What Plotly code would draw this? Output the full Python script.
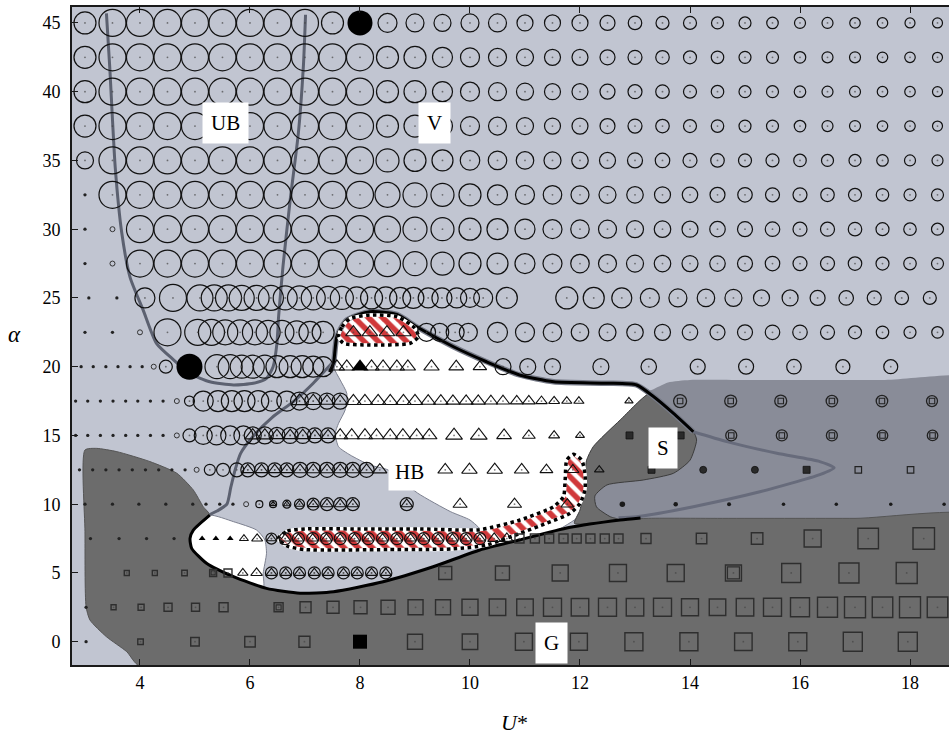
import plotly.graph_objects as go

# ---------------- DATA ----------------
# open circles (V regime): U* positions and diameters (px) per alpha row
V45_U = [3.0, 3.5, 4.0, 4.5, 5.0, 5.5, 6.0, 6.5, 7.0, 7.5, 8.5, 9.0, 9.5, 10.0, 10.5, 11.0, 11.5, 12.0, 12.5, 13.0, 13.5, 14.0, 14.5, 15.0, 15.5, 16.0, 16.5, 17.0, 17.5, 18.0, 18.5]
V45_D = [22, 27, 27, 27, 27, 27, 27, 27, 27, 22, 19, 18, 17, 18, 18, 16, 16, 16, 15, 13.5, 13, 13, 12, 12, 11.5, 11, 11, 10.5, 10.5, 10, 10]
V40_U = [3.0, 3.5, 4.0, 4.5, 5.0, 5.5, 6.0, 6.5, 7.0, 7.5, 8.0, 8.5, 9.0, 9.5, 10.0, 10.5, 11.0, 11.5, 12.0, 12.5, 13.0, 13.5, 14.0, 14.5, 15.0, 15.5, 16.0, 16.5, 17.0, 17.5, 18.0, 18.5]
V40_D = [22, 27, 27, 27, 27, 27, 27, 27, 27, 27, 27, 22, 22, 20, 19, 18, 17, 16, 16, 15, 14, 13.5, 13, 12.5, 12, 12, 11.5, 11, 11, 10.5, 10.5, 10]
V35_D = [17, 27, 27, 27, 27, 27, 27, 27, 27, 27, 27, 23, 22, 21, 19.5, 18.5, 17.5, 17, 16.5, 16, 15, 14.5, 14, 13.5, 13, 13, 12.5, 12, 12, 11.5, 11, 11]
V32_U = [3.5, 4.0, 4.5, 5.0, 5.5, 6.0, 6.5, 7.0, 7.5, 8.0, 8.5, 9.0, 9.5, 10.0, 10.5, 11.0, 11.5, 12.0, 12.5, 13.0, 13.5, 14.0, 14.5, 15.0, 15.5, 16.0, 16.5, 17.0, 17.5, 18.0, 18.5]
V32_D = [27, 27, 27, 27, 27, 27, 27, 27, 27, 27, 25, 24, 23, 22, 20, 19, 18.5, 18, 17, 16.5, 16, 15.5, 15, 14.5, 14, 14, 13.5, 13, 12.5, 12, 12]
V30_U = [4.0, 4.5, 5.0, 5.5, 6.0, 6.5, 7.0, 7.5, 8.0, 8.5, 9.0, 9.5, 10.0, 10.5, 11.0, 11.5, 12.0, 12.5, 13.0, 13.5, 14.0, 14.5, 15.0, 15.5, 16.0, 16.5, 17.0, 17.5, 18.0, 18.5]
V30_D = [27, 27, 27, 27, 27, 27, 27, 27, 27, 26, 24, 23, 22, 21, 20, 19, 18.5, 18, 17, 16.5, 16, 15.5, 15, 14.5, 14, 14, 13.5, 13, 12.5, 12]
V25_U = [4.09, 4.6, 5.09, 5.35, 5.61, 5.85, 6.12, 6.38, 6.64, 6.9, 7.15, 7.42, 7.67, 7.94, 8.21, 8.47, 8.73, 8.97, 9.24, 9.49, 9.76, 10.0, 10.24, 10.67,
         11.76, 12.25, 12.76, 13.27, 13.78, 14.29, 14.79, 15.3, 15.82, 16.32, 16.84, 17.35, 17.85, 18.36]
V25_D = [20, 27, 26, 26, 26, 25, 25, 25, 24, 24, 24, 23, 23, 22, 22, 22, 21, 21, 20, 20, 20, 19, 19, 21,
         22, 21, 20, 19, 18, 17.5, 17, 16, 16, 15, 14.5, 14, 13.5, 13]
V22_U = [4.5, 5.05, 5.3, 5.55, 5.82, 6.09, 6.33, 6.58, 6.85, 7.09, 7.33, 9.21, 9.45, 9.73, 9.97,
         10.5, 11.0, 11.5, 12.0, 12.5, 13.0, 13.5, 14.0, 14.5, 15.0, 15.5, 16.0, 16.5, 17.0, 17.5, 18.0, 18.5]
V22_D = [27, 26, 26, 25, 25, 25, 24, 24, 23, 22, 22, 18, 18, 18, 18,
         20, 19, 18.5, 17.5, 17, 16.5, 16, 15.5, 15, 15, 14.5, 14.5, 14, 13, 12.5, 12, 11.5]
V20_U = [4.47, 5.4, 5.64, 5.85, 6.05, 6.27, 6.49, 6.73, 6.95, 7.15, 7.33, 10.6, 11.05, 11.5, 12.38, 13.25, 14.14, 15.02, 15.89, 16.78, 17.65]
V20_D = [13, 24, 24, 23, 23, 23, 22, 22, 22, 21, 20, 16, 16, 16, 16, 15.5, 15, 15, 14.5, 14, 14]
V17_U = [4.9, 5.15, 5.42, 5.67, 5.9, 6.15, 6.39, 6.67]
V17_D = [10, 20, 21, 21, 21, 21, 20, 20]
V15_U = [4.9, 5.15, 5.39, 5.64, 5.88]
V15_D = [13, 18, 19, 19, 19]
V12_U = [5.27, 5.51, 5.76]
V12_D = [11, 13, 14]
V10_U = [6.17]
V10_D = [7]

# filled circles (highlighted cases)
VF_U = [8.0, 4.9]
VF_A = [45, 20]
VF_D = [25, 26]

# tiny circles
SC_U = [3.5, 3.5, 4.0, 4.25, 4.67, 4.67, 5.03, 5.93]
SC_A = [30, 27.5, 22.5, 20, 17.5, 15, 12.5, 10]

# small dots (no response)
DOT32_U = [3.0]
DOT30_U = [3.0]
DOT27_U = [3.0]
DOT25_U = [3.07, 3.58]
DOT22_U = [3.0, 3.5]
DOT20_U = [2.93, 3.15, 3.38, 3.6, 3.82, 4.04]
DOT17_U = [2.83, 3.05, 3.28, 3.51, 3.74, 3.96, 4.19, 4.42]
DOT15_U = [2.83, 3.05, 3.28, 3.51, 3.74, 3.96, 4.19, 4.42]
DOT12_U = [2.9, 3.14, 3.38, 3.62, 3.86, 4.1, 4.34, 4.58, 4.82]
DOT10_U = [3.0, 3.5, 3.98, 4.47, 4.96, 5.2, 5.45, 5.69]
DOT7_U = [3.1, 3.62, 4.12, 4.62]
DOT2_U = [3.02]
DOT0_U = [3.02]

# open triangles (HB regime): U*, width (px)
T22_U = [7.88, 8.18, 8.49, 8.79]
T22_S = [12, 12, 12, 12]
T20_U = [7.58, 7.76, 8.21, 8.42, 8.67, 8.87, 9.3, 9.75, 10.18]
T20_S = [12, 12, 12, 12, 12, 12, 12, 11.5, 10.5]
T17_U = [7.88, 8.09, 8.33, 8.55, 8.79, 9.0, 9.24, 9.47, 9.69, 9.93, 10.15, 10.38, 10.6, 10.85, 11.07, 11.3, 11.53, 11.76, 11.98, 12.89]
T17_S = [12, 12, 12, 12, 12, 12, 11.5, 11.5, 11, 11, 11, 10.5, 10.5, 10, 10, 9, 8.5, 8, 8, 6.5]
T15_U = [7.64, 7.85, 8.09, 8.3, 8.55, 8.78, 9.03, 9.26, 9.71, 10.16, 10.62, 11.07, 11.53, 12.0]
T15_S = [12, 12, 12, 12, 12, 12, 12, 12, 13, 13, 11.5, 10, 8.5, 7]
T12_U = [8.36, 9.55, 9.99, 10.45, 10.94, 11.39, 11.87, 12.35]
T12_S = [11, 11.5, 12, 12, 11.5, 10, 9.5, 7.5]
T10_U = [9.82, 10.81, 11.77]
T10_S = [11, 11, 10]
T7_U = [5.89, 6.13, 10.44, 10.67]
T7_S = [7, 8.5, 10, 10]
T5_U = [5.87, 6.12]
T5_S = [8, 9]
TF_U = [8.0]          # filled triangle
TF_A = [20]
TS_U = [5.13, 5.38, 5.64]   # small filled triangles at alpha 7.5

# triangle inside circle (mixed V/HB): U*, circle diameter
VH17_U = [6.9, 7.15, 7.4, 7.64]
VH17_D = [18, 17, 16, 16]
VH15_U = [6.05, 6.27, 6.49, 6.73, 6.96, 7.18, 7.42]
VH15_D = [17, 17, 16, 16, 16, 15, 15]
VH12_U = [5.96, 6.21, 6.45, 6.67, 6.91, 7.15, 7.4, 7.64, 7.87, 8.12]
VH12_D = [14, 14, 14, 14, 15, 15, 15, 15, 15, 15]
VH10_U = [6.42, 6.67, 6.9, 7.15, 7.4, 7.64, 7.87, 8.85]
VH10_D = [7, 8, 10, 12, 13, 13, 13, 13]
VH7_U = [6.39, 6.64, 6.88, 7.14, 7.39, 7.64, 7.9, 8.15, 8.41, 8.67, 8.92, 9.16, 9.42, 9.68, 9.93, 10.18]
VH7_D = [11, 12, 12, 12, 12, 12, 12, 12, 12, 12, 12, 12, 12, 12, 12, 12]
VH5_U = [6.39, 6.65, 6.9, 7.17, 7.42, 7.7, 7.95, 8.21, 8.47]
VH5_D = [12, 12, 12, 12, 12, 12, 12, 12, 12]

# open squares (G regime): U*, side (px)
G7_U = [10.9, 11.18, 11.44, 11.7, 11.94, 12.19, 12.45, 12.7, 13.2, 14.21, 15.22, 16.23, 17.24, 18.25]
G7_S = [9, 9, 9, 9, 9, 9, 9, 9, 10, 10.5, 11.5, 17, 20.5, 21.5]
G5_U = [3.76, 4.27, 4.81, 5.33, 5.6, 9.55, 10.59, 11.64, 12.69, 13.74, 14.79, 15.84, 16.89, 17.94]
G5_S = [5, 5, 5.5, 7, 8, 13, 14, 16, 17, 17, 16, 19, 20, 21]
G2_U = [3.52, 4.02, 4.51, 5.01, 5.52, 6.52, 7.01, 7.51, 8.01, 8.51, 9.01, 9.51, 10.0, 10.5, 11.0, 11.5, 12.0, 12.5, 13.0, 13.5,
        14.0, 14.5, 15.0, 15.5, 16.0, 16.5, 17.0, 17.5, 18.0, 18.5]
G2_S = [5, 6, 8, 8, 9, 9, 11, 12, 13, 14, 15, 15, 16, 16.5, 16.5, 18, 17.5, 18, 17.5, 18,
        17, 16.5, 17.5, 18, 19, 20, 21, 20.5, 21, 20.5]
G0_U = [4.01, 5.0, 6.0, 6.99, 9.0, 10.0, 10.98, 11.98, 12.98, 13.98, 14.97, 15.96, 16.96, 17.96]
G0_S = [5.5, 8.5, 10.5, 11, 15, 15.5, 17, 17, 18, 18, 17.5, 18, 19, 19]
GF_U = [8.0]     # filled square
GF_A = [0]
GD_U = [6.52, 14.79, 5.33]   # double-outlined squares (inner square)
GD_A = [2.5, 5, 5]
GD_S = [5, 12, 4]

# S regime markers
SCS_U = [13.82, 14.74, 15.65, 16.58, 17.49, 18.4, 14.75, 15.67, 16.58, 17.5, 18.41]
SCS_A = [17.5, 17.5, 17.5, 17.5, 17.5, 17.5, 15, 15, 15, 15, 15]
SCS_D = [13, 12, 12, 11.5, 11.5, 11, 11, 11, 11, 10.5, 10.5]
SFS_U = [12.9, 13.83, 13.3, 16.12]
SFS_A = [15, 15, 12.5, 12.5]
SFC_U = [14.24, 15.18]
SFC_A = [12.5, 12.5]
SOS_U = [17.06, 18.01]
SOS_A = [12.5, 12.5]
SD10_U = [12.77, 13.74, 14.71, 15.7, 16.66, 17.65, 18.62]
SD10_S = [5.5, 4.5, 4, 3.5, 3.5, 3.5, 3.5]

# regime boundaries (U*, alpha)
G_BND_U = [4.0, 3.76, 3.39, 3.09, 3.02, 3.0, 3.0, 3.21, 3.58, 4.18, 4.67, 4.97, 5.15, 5.27,
           4.97, 4.91, 4.94, 5.21, 5.7, 6.3, 6.91, 7.52, 8.42, 9.33, 10.18, 10.9, 11.8, 12.73, 13.2, 14.5, 17.0, 19.5, 19.5]
G_BND_A = [-1.8, -0.73, 0.36, 1.58, 2.55, 8.0, 13.94, 14.06, 13.82, 13.1, 12.25, 11.03, 9.82, 9.21,
           8.12, 7.52, 6.79, 5.7, 4.73, 3.88, 3.52, 3.64, 4.36, 5.45, 6.67, 7.4, 8.3, 8.85, 8.97, 8.97, 8.97, 8.97, -1.8]
CORE_U = [13.27, 12.73, 12.24, 12.12, 12.09, 12.06, 12.0, 11.9, 12.7, 12.55, 12.3, 12.27, 12.49, 13.15, 13.7, 14.0, 14.12, 14.06, 13.7, 13.45]
CORE_A = [18.06, 16.12, 14.18, 13.2, 12.25, 10.8, 9.58, 8.6, 8.9, 9.09, 9.8, 10.6, 11.4, 11.76, 12.25, 13.2, 14.67, 15.3, 16.6, 17.5]
S_BND_U = [13.3, 13.6, 14.0, 15.0, 17.5, 19.5, 19.5, 12.7, 12.5, 12.27, 12.27, 13.0]
S_BND_A = [18.3, 18.85, 19.03, 19.03, 19.03, 19.03, 8.97, 8.97, 9.1, 9.8, 10.6, 17.9]
HB_U = [7.52, 7.58, 7.76, 8.18, 8.67, 9.03, 9.7, 10.3, 10.9, 11.52, 12.49, 13.03, 13.3, 12.6, 12.15, 12.1, 11.0, 10.2, 10.2, 10.0, 9.65, 9.05,
        8.51, 8.18, 7.82, 7.61, 7.55, 7.61, 7.73, 7.76, 7.64]
HB_A = [20.0, 22.2, 23.4, 24.0, 23.76, 22.9, 21.45, 20.36, 19.4, 18.9, 18.8, 18.67, 18.1, 14.0, 11.0, 9.5, 7.0, 7.5, 8.1, 8.85, 9.45, 10.8,
        12.49, 12.85, 13.58, 14.18, 15.15, 15.88, 16.85, 18.06, 19.03]
HB2_U = [5.27, 5.7, 6.12, 6.27, 6.3, 6.24, 6.24, 5.5, 4.7, 4.8]
HB2_A = [9.21, 8.73, 8.12, 7.4, 6.43, 4.97, 3.9, 3.5, 6.5, 8.5]
HATCH1_U = [7.61, 7.67, 7.82, 8.18, 8.67, 9.0, 9.06, 8.91, 8.18, 7.7]
HATCH1_A = [22.18, 22.9, 23.5, 23.76, 23.64, 22.8, 22.18, 21.7, 21.58, 21.7]
HATCH2_U = [6.51, 6.68, 7.0, 8.0, 9.09, 10.18, 10.91, 11.52, 11.7, 11.73, 11.76, 11.88, 12.03, 12.09, 12.09, 12.0, 11.82, 11.39, 10.91, 10.3, 9.7, 8.5, 7.0, 6.68]
HATCH2_A = [7.5, 8.05, 8.2, 8.2, 8.2, 8.15, 8.85, 9.82, 10.55, 11.76, 13.21, 13.63, 13.21, 12.25, 11.03, 10.06, 9.34, 8.61, 7.88, 7.03, 6.75, 6.7, 6.7, 6.95]
UB_U = [3.39, 3.45, 3.55, 3.67, 3.82, 4.06, 4.3, 4.61, 4.91, 5.27, 5.7, 6.06, 6.3, 6.42, 6.49, 6.52, 6.6, 6.73, 6.88, 6.97, 7.01]
UB_A = [45.7, 41.8, 34.5, 29.7, 26.5, 24.1, 21.7, 20.5, 19.5, 18.9, 18.67, 18.79, 19.15, 20.0, 21.7, 23.64, 27.3, 32.1, 37.0, 41.8, 45.6]
VB_U = [7.5, 7.15, 6.8, 6.4, 6.07, 5.83, 5.73, 5.65, 5.58, 5.4, 5.27]
VB_A = [20.3, 18.8, 17.5, 16.3, 15.0, 13.7, 12.5, 11.2, 10.0, 9.5, 9.25]
TOP_U = [7.45, 7.52, 7.58, 7.76, 8.18, 8.67, 9.03, 9.7, 10.3, 10.9, 11.52, 12.49, 13.03, 13.33, 13.7, 14.06]
TOP_A = [19.6, 20.3, 22.2, 23.4, 24.0, 23.8, 22.9, 21.45, 20.36, 19.4, 18.9, 18.8, 18.67, 17.85, 16.6, 15.27]
BOT_U = [5.27, 4.97, 4.91, 4.94, 5.21, 5.7, 6.3, 6.91, 7.52, 8.42, 9.33, 10.18, 10.9, 11.8, 12.73, 13.1]
BOT_A = [9.21, 8.12, 7.52, 6.79, 5.7, 4.73, 3.88, 3.52, 3.64, 4.36, 5.45, 6.67, 7.4, 8.3, 8.85, 9.0]
LOBE_U = [14.06, 14.67, 15.58, 16.36, 16.62, 16.36, 15.27, 14.06, 13.03, 12.7]
LOBE_A = [15.27, 14.55, 13.7, 13.1, 12.65, 12.15, 10.9, 9.82, 9.09, 9.02]

LABELS = ["UB", "V", "HB", "S", "G"]
LABEL_U = [5.55, 9.35, 8.9, 13.51, 11.48]
LABEL_A = [37.7, 37.7, 12.35, 14.12, -0.1]

X_TICKS = [4, 6, 8, 10, 12, 14, 16, 18]
Y_TICKS = [0, 5, 10, 15, 20, 25, 30, 35, 40, 45]

# ---------------- FIGURE ----------------
LIGHT = "#c1c5d1"
MEDIUM = "#898c98"
DARK = "#6c6c6c"
SERIF = "Liberation Serif"
TRI_SCALE = 1.12   # plotly triangle size per px of drawn width (style)

fig = go.Figure()


def region(us, als, color, line_color=None, lw=0, shape="spline", pattern=None):
    kw = dict(x=us + us[:1], y=als + als[:1], mode="lines", fill="toself",
              fillcolor=color, hoverinfo="skip", showlegend=False,
              line=dict(width=lw, color=line_color or color, shape=shape, smoothing=0.6))
    if pattern is not None:
        kw["fillpattern"] = pattern
    fig.add_trace(go.Scatter(**kw))


def curve(us, als, color, lw, dash="solid", shape="spline"):
    fig.add_trace(go.Scatter(x=us, y=als, mode="lines", hoverinfo="skip", showlegend=False,
                             line=dict(color=color, width=lw, dash=dash, shape=shape, smoothing=0.6)))


def pts(us, als, symbol, size, color="black", lc="#111111", lw=1.2, opacity=1.0):
    fig.add_trace(go.Scatter(x=us, y=als, mode="markers", hoverinfo="skip", showlegend=False,
                             marker=dict(symbol=symbol, size=size, color=color, opacity=opacity,
                                         line=dict(color=lc, width=lw))))


def rep(a, us):
    return [a] * len(us)


# regions
region(S_BND_U, S_BND_A, MEDIUM)
region(HB_U, HB_A, "white", line_color="#7d8190", lw=1)
region(HB2_U, HB2_A, "white", line_color="#7d8190", lw=1)
region(G_BND_U, G_BND_A, DARK, line_color="#555555", lw=1)
region(CORE_U, CORE_A, DARK, line_color="#3c3c3c", lw=1)
hatch = dict(shape="\\", fgcolor="#d0383a", bgcolor="white", size=10, solidity=0.55, fgopacity=1)
region(HATCH1_U, HATCH1_A, "white", pattern=hatch)
region(HATCH2_U, HATCH2_A, "white", pattern=hatch)

# boundary curves
curve(UB_U, UB_A, "#5c6170", 3)
curve(VB_U, VB_A, "#5c6170", 3)
curve(LOBE_U, LOBE_A, "#676b7b", 3)
curve(TOP_U, TOP_A, "#777b88", 5.5)
curve(TOP_U, TOP_A, "black", 3)
curve(BOT_U, BOT_A, "black", 3)
for hu, ha in ((HATCH1_U, HATCH1_A), (HATCH2_U, HATCH2_A)):
    curve(hu + hu[:1], ha + ha[:1], "white", 3.5)
    curve(hu + hu[:1], ha + ha[:1], "black", 3.5, dash="dot")

# ---- markers ----
v_rows = [(45, V45_U, V45_D), (42.5, V40_U, V40_D), (40, V40_U, V40_D), (37.5, V40_U, V40_D),
          (35, V40_U, V35_D), (32.5, V32_U, V32_D), (30, V30_U, V30_D), (27.5, V30_U, V30_D),
          (25, V25_U, V25_D), (22.5, V22_U, V22_D), (20, V20_U, V20_D), (17.5, V17_U, V17_D),
          (15, V15_U, V15_D), (12.5, V12_U, V12_D), (10, V10_U, V10_D)]
cx, ca, cd = [], [], []
for a, us, ds in v_rows:
    cx += us; ca += rep(a, us); cd += ds
vh_rows = [(17.5, VH17_U, VH17_D), (15, VH15_U, VH15_D), (12.5, VH12_U, VH12_D),
           (10, VH10_U, VH10_D), (7.5, VH7_U, VH7_D), (5, VH5_U, VH5_D)]
for a, us, ds in vh_rows:
    cx += us; ca += rep(a, us); cd += ds
pts(cx, ca, "circle-open", cd, color="#111111", lw=1.2)

t_rows = [(22.5, T22_U, T22_S), (20, T20_U, T20_S), (17.5, T17_U, T17_S), (15, T15_U, T15_S),
          (12.5, T12_U, T12_S), (10, T10_U, T10_S), (7.5, T7_U, T7_S), (5, T5_U, T5_S)]
tx, ta, ts = [], [], []
for a, us, ss in t_rows:
    tx += us; ta += rep(a, us); ts += [s * TRI_SCALE for s in ss]
for a, us, ds in vh_rows:
    tx += us; ta += rep(a, us); ts += [max(5.5, d * 0.8) for d in ds]
pts(tx, ta, "triangle-up-open", ts, color="#111111", lw=1.1)

g_rows = [(7.5, G7_U, G7_S), (5, G5_U, G5_S), (2.5, G2_U, G2_S), (0, G0_U, G0_S)]
gx, ga, gs = [], [], []
for a, us, ss in g_rows:
    gx += us; ga += rep(a, us); gs += ss
pts(gx, ga, "square-open", gs, color="#2e2e2e", lw=1.4)
pts(GD_U, GD_A, "square-open", GD_S, color="#2e2e2e", lw=1.2)
pts(GF_U, GF_A, "square", 14, color="black", lc="black", lw=0)
pts(VF_U, VF_A, "circle", VF_D, color="black", lc="black", lw=0)
pts(TF_U, TF_A, "triangle-up", 15, color="black", lc="black", lw=0)
pts(TS_U, rep(7.5, TS_U), "triangle-up", 6, color="black", lc="black", lw=0)

# S-regime markers
pts(SCS_U, SCS_A, "circle-open", SCS_D, color="#222222", lw=1.3)
pts(SCS_U, SCS_A, "square-open", 5.5, color="#222222", lw=1.1)
pts(SFS_U, SFS_A, "square", 7, color="#2a2a2a", lc="#111111", lw=0.8)
pts(SFC_U, SFC_A, "circle", 7, color="#2a2a2a", lc="#111111", lw=0.8)
pts(SOS_U, SOS_A, "square-open", 6.5, color="#222222", lw=1.2)
pts(SD10_U, rep(10, SD10_U), "circle", SD10_S, color="#1a1a1a", lw=0)

# tiny circles and dots
pts(SC_U, SC_A, "circle-open", 5, color="#333333", lw=1)
dot_rows = [(32.5, DOT32_U), (30, DOT30_U), (27.5, DOT27_U), (25, DOT25_U), (22.5, DOT22_U),
            (20, DOT20_U), (17.5, DOT17_U), (15, DOT15_U), (12.5, DOT12_U), (10, DOT10_U),
            (7.5, DOT7_U), (2.5, DOT2_U), (0, DOT0_U)]
dx, da = [], []
for a, us in dot_rows:
    dx += us; da += rep(a, us)
pts(dx, da, "circle", 3.3, color="#222222", lw=0)

# centre dots of every amplitude marker
pts(cx + tx + gx, ca + ta + ga, "circle", 1.8, color="#444444", lw=0, opacity=0.7)

# labels
for t, u, a in zip(LABELS, LABEL_U, LABEL_A):
    fig.add_annotation(x=u, y=a, text=t, showarrow=False, bgcolor="white",
                       borderpad=6 if t == "HB" else 8,
                       font=dict(family=SERIF, size=21, color="black"))

fig.add_annotation(xref="paper", yref="paper", x=-0.065, y=0.503, xanchor="center", yanchor="middle",
                   text="<i>α</i>", showarrow=False, font=dict(family=SERIF, size=23, color="black"))
fig.add_annotation(xref="paper", yref="paper", x=0.505, y=-0.088, xanchor="center", yanchor="middle",
                   text="<i>U</i>*", showarrow=False, font=dict(family=SERIF, size=22, color="black"))

tick_style = dict(ticks="inside", ticklen=6, tickwidth=1, tickcolor="#1a1a1a",
                  tickfont=dict(family=SERIF, size=18, color="black"),
                  showgrid=False, zeroline=False, showline=True, linecolor="#1a1a1a", linewidth=2)
fig.update_xaxes(range=[2.764, 18.709], tickvals=X_TICKS, mirror="ticks", **tick_style)
fig.update_yaxes(range=[-1.695, 46.16], tickvals=Y_TICKS, ticklabelstandoff=6, mirror=False, **tick_style)
fig.update_layout(width=949, height=736, margin=dict(l=72, r=0, t=7, b=71),
                  plot_bgcolor=LIGHT, paper_bgcolor="white", showlegend=False)

fig.write_html("out.html", config={"displayModeBar": False},
               post_script="document.body.style.margin='0px';")
